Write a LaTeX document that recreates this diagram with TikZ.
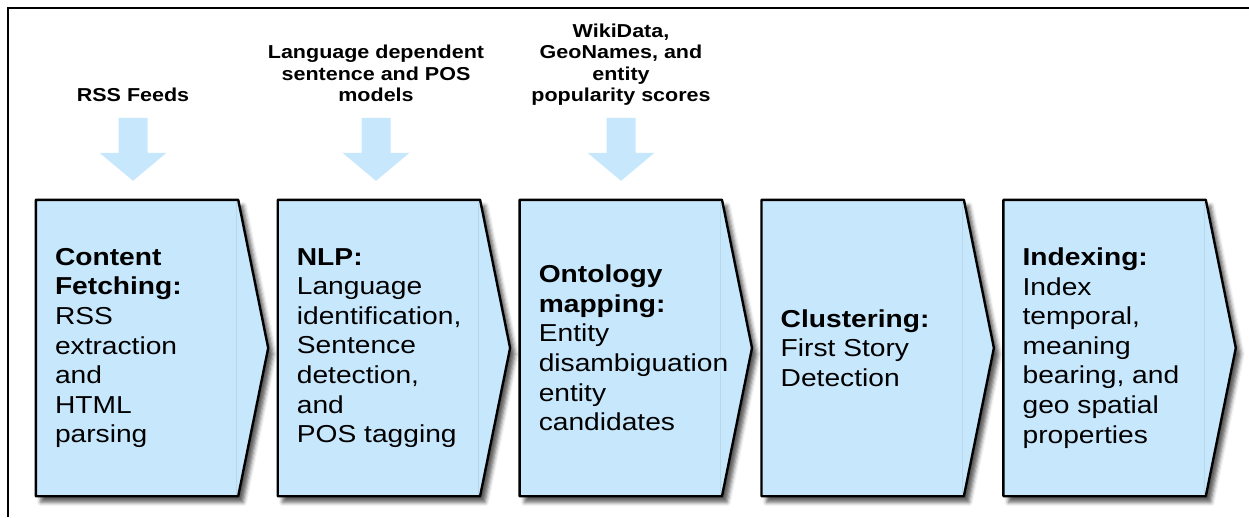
\documentclass[tikz,border=0pt]{standalone}
\usepackage{fontspec}
\setmainfont{Liberation Sans}[FakeStretch=1.15]
\usepackage{tikz}
\usetikzlibrary{positioning}
\usetikzlibrary{calc}
\usetikzlibrary{shadows.blur}

\definecolor{paleblue}{RGB}{199,231,252}

\begin{document}
\begin{tikzpicture}[x=1pt, y=-1pt,
        stage/.style={rectangle, inner sep=0pt, minimum width=202pt, minimum height=296pt},
        chevron/.style={fill=paleblue, draw=black, line width=2.4pt, line join=round,
            blur shadow={shadow xshift=5pt, shadow yshift=-6pt, shadow blur radius=4pt, shadow opacity=65}},
        seam/.style={draw=paleblue!93!black, line width=0.5pt},
        stagetext/.style={align=left, inner sep=0pt, font=\fontsize{24.5}{29.6}\selectfont},
        feedlabel/.style={align=center, inner sep=0pt, text depth=0pt, anchor=south,
            font=\fontsize{18.7}{21.5}\selectfont\bfseries},
        feed/.style={fill=paleblue}]
        \useasboundingbox (0,0) rectangle (1249,517);

        % frame
        \draw[line width=1.8pt] (7.8,517) -- (7.8,8) -- (1249,8);

        \node(s1) [stage] at (137,348) {};
        \node(s2) [stage, right=39.5pt of s1] {};
        \node(s3) [stage, right=39.5pt of s2] {};
        \node(s4) [stage, right=39.5pt of s3] {};
        \node(s5) [stage, right=39.5pt of s4] {};

        \draw[chevron] (s1.north west) -- (s1.north east) -- ($(s1.east)+(30,0)$) -- (s1.south east) -- (s1.south west) -- cycle;
        \draw[chevron] (s2.north west) -- (s2.north east) -- ($(s2.east)+(30,0)$) -- (s2.south east) -- (s2.south west) -- cycle;
        \draw[chevron] (s3.north west) -- (s3.north east) -- ($(s3.east)+(30,0)$) -- (s3.south east) -- (s3.south west) -- cycle;
        \draw[chevron] (s4.north west) -- (s4.north east) -- ($(s4.east)+(30,0)$) -- (s4.south east) -- (s4.south west) -- cycle;
        \draw[chevron] (s5.north west) -- (s5.north east) -- ($(s5.east)+(30,0)$) -- (s5.south east) -- (s5.south west) -- cycle;

        \draw[seam] ($(s1.north east)+(-2,1.5)$) -- ($(s1.south east)+(-2,-1.5)$);
        \draw[seam] ($(s2.north east)+(-2,1.5)$) -- ($(s2.south east)+(-2,-1.5)$);
        \draw[seam] ($(s3.north east)+(-2,1.5)$) -- ($(s3.south east)+(-2,-1.5)$);
        \draw[seam] ($(s4.north east)+(-2,1.5)$) -- ($(s4.south east)+(-2,-1.5)$);
        \draw[seam] ($(s5.north east)+(-2,1.5)$) -- ($(s5.south east)+(-2,-1.5)$);

        \node(t1) [stagetext, right=19pt of s1.west] {\textbf{Content}\\\textbf{Fetching:}\\RSS\\extraction\\and\\HTML\\parsing};
        \node(t2) [stagetext, right=19pt of s2.west] {\textbf{NLP:}\\Language\\identification,\\Sentence\\detection,\\and\\POS tagging};
        \node(t3) [stagetext, right=19pt of s3.west] {\textbf{Ontology}\\\textbf{mapping:}\\Entity\\disambiguation\\entity\\candidates};
        \node(t4) [stagetext, right=19pt of s4.west] {\textbf{Clustering:}\\First Story\\Detection};
        \node(t5) [stagetext, right=19pt of s5.west] {\textbf{Indexing:}\\Index\\temporal,\\meaning\\bearing, and\\geo spatial\\properties};

        \node(i1) [feedlabel] at (133,101.7) {RSS Feeds};
        \node(i2) [feedlabel] at (376,101.7) {Language dependent\\sentence and POS\\models};
        \node(i3) [feedlabel] at (621,101.7) {WikiData,\\GeoNames, and\\entity\\popularity scores};

        \fill[feed] ($(i1 |- s1.north)+(0,-19)$) -- ++(-33.5,-28) -- ++(19,0) -- ++(0,-35) -- ++(29,0) -- ++(0,35) -- ++(19,0) -- cycle;
        \fill[feed] ($(i2 |- s2.north)+(0,-19)$) -- ++(-33.5,-28) -- ++(19,0) -- ++(0,-35) -- ++(29,0) -- ++(0,35) -- ++(19,0) -- cycle;
        \fill[feed] ($(i3 |- s3.north)+(0,-19)$) -- ++(-33.5,-28) -- ++(19,0) -- ++(0,-35) -- ++(29,0) -- ++(0,35) -- ++(19,0) -- cycle;
    \end{tikzpicture}
\end{document}
